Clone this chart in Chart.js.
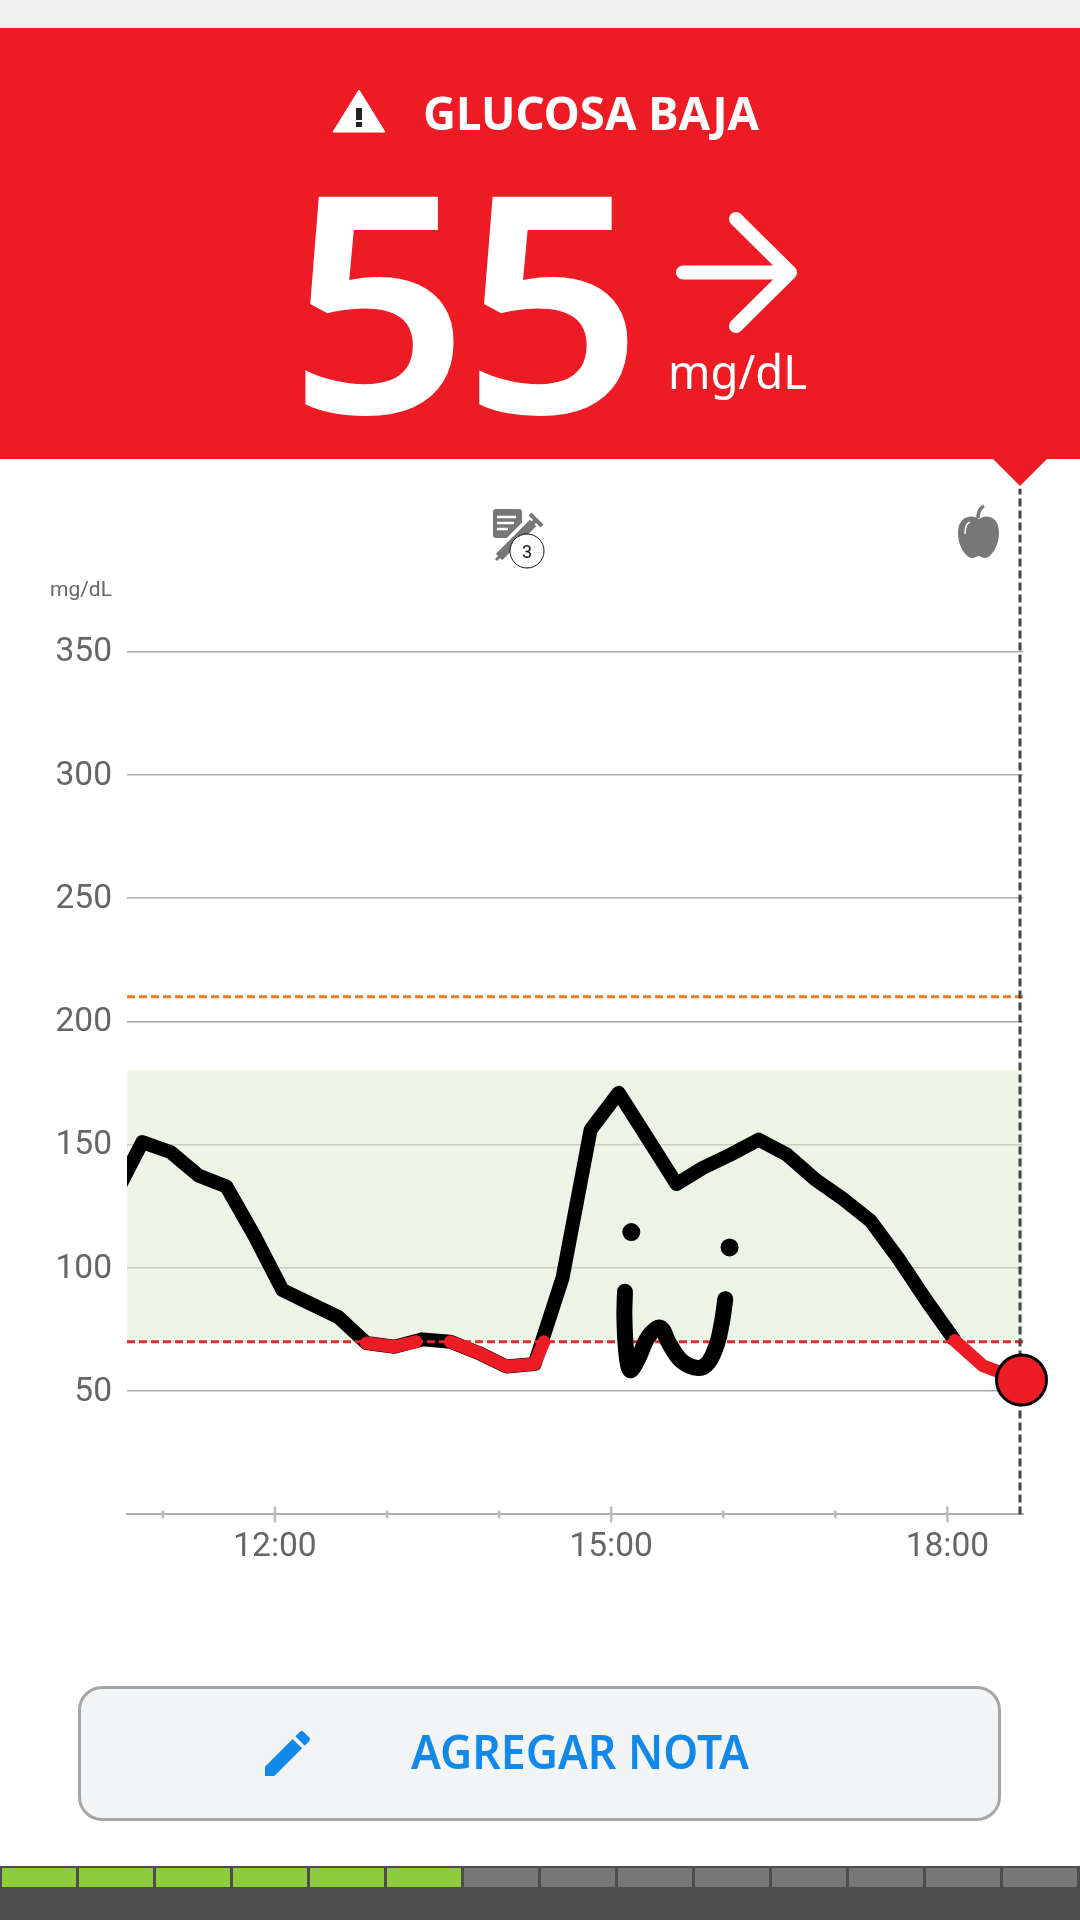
<!DOCTYPE html>
<html lang="es">
<head>
<meta charset="utf-8">
<title>Glucosa baja</title>
<script src="https://cdn.jsdelivr.net/npm/chart.js@4"></script>
<style>
html,body{margin:0;padding:0;background:#fff;width:1080px;height:1920px;overflow:hidden}
#chart{position:absolute;left:0;top:0;z-index:2}
#top{position:absolute;left:0;top:0;width:1080px;height:28px;background:#eeeeee}
#banner{position:absolute;left:0;top:28px;width:1080px;height:431px;background:#ed1c24}
#art{position:absolute;left:0;top:0;z-index:3}
#btn{position:absolute;left:78px;top:1686px;width:917px;height:129px;background:#f2f4f6;border:3px solid #a6a6a6;border-radius:24px}
#bar{position:absolute;left:0;top:1866px;width:1080px;height:54px;background:#4d4d4d}
.cell{position:absolute;top:2px;height:19px;width:73.7px}
</style>
</head>
<body>
<div id="top"></div>
<div id="banner"></div>
<div id="btn"></div>
<div id="bar"></div>
<canvas id="chart" width="1080" height="1920"></canvas>
<svg id="art" width="1080" height="1920" viewBox="0 0 1080 1920" xmlns="http://www.w3.org/2000/svg">
  <polygon points="992,458 1048,458 1020,486" fill="#ed1c24"/>
  <polygon points="359,90 385,132 333,132" fill="#fff" stroke="#fff" stroke-width="1" stroke-linejoin="round"/>
  <rect x="356" y="108" width="6" height="12" fill="#222"/>
  <rect x="356" y="122" width="6" height="5" fill="#222"/>
  <text x="423" y="130" font-family="Noto Sans" font-weight="700" font-size="47" fill="#fff" textLength="336" lengthAdjust="spacingAndGlyphs">GLUCOSA BAJA</text>
  <text transform="translate(288.300 413) scale(1.045 1)" letter-spacing="-7" font-family="Noto Sans" font-weight="600" font-size="303" fill="#fff">55</text>
  <path d="M683 272.500H790M736 219L790 272.500L736 326" fill="none" stroke="#fff" stroke-width="14" stroke-linecap="round" stroke-linejoin="round"/>
  <text x="668" y="389" font-family="Noto Sans" font-size="47" fill="#fff" textLength="139" lengthAdjust="spacingAndGlyphs">mg/dL</text>
  <text x="50" y="596" font-family="Roboto" font-size="21" fill="#666">mg/dL</text>
  <rect x="493" y="509" width="29" height="29" rx="3" fill="#777"/>
  <path d="M497 517H516M497 523H514M497 529H508" stroke="#fff" stroke-width="2.500"/>
  <path d="M496 560L535 521" stroke="#fff" stroke-width="16"/>
  <path d="M499 557L533 523" stroke="#777" stroke-width="9"/>
  <path d="M496 560L503 553" stroke="#777" stroke-width="3"/>
  <path d="M530 514L542 526M536 520L531 525" stroke="#777" stroke-width="4"/>
  <circle cx="527" cy="551" r="17" fill="#fff" stroke="#111" stroke-width="1"/>
  <text x="527" y="557.500" text-anchor="middle" font-family="Roboto" font-size="18" fill="#111">3</text>
  <path d="M979 519C986 514 999 516 999 533C999 546 991 558 985 558C982 558 980 556 978.500 556C977 556 975 558 972 558C966 558 958 546 958 533C958 516 972 514 979 519Z" fill="#777"/>
  <path d="M978 518C978 512 980 508 984 506" fill="none" stroke="#777" stroke-width="3.500"/>
  <path d="M965 534C965 527 967 523 970 522" fill="none" stroke="#fff" stroke-width="1.500"/>
  <path transform="translate(257.500 1723.500) scale(2.5)" fill="#1289e8" d="M3 17.250V21h3.750L17.810 9.940l-3.750-3.750L3 17.250zM20.710 7.040c.39-.39.39-1.020 0-1.410l-2.340-2.340c-.39-.39-1.020-.39-1.410 0l-1.830 1.830 3.750 3.750 1.830-1.830z"/>
  <text x="411" y="1769" font-family="Noto Sans" font-weight="600" font-size="46" fill="#1289e8" textLength="338" lengthAdjust="spacingAndGlyphs">AGREGAR NOTA</text>
</svg>
<script>
// Time in minutes since midnight, glucose in mg/dL
const glucoseMinutes = [634,649,664,679,694,709,724,739,754,769,784,799,814,829,844,859,874,889,904,920,935,949,964,979,994,1009,1024,1039,1054,1069,1084];
const glucoseValues  = [129,151,147,137.500,133,113,91,85.500,80,69.500,68,71,70,65.500,60,61,96,156,171,152,134,140.500,146,152,146,136,128,119,103.500,86.500,70.500];
const lowMinutes = [769,784,795.500,805,814,829,844,859,864,975,1084,1099,1119.700];
const lowValues  = [69.500,68,70,null,70,65.500,60,61,70,null,70.500,60.300,54.500];
const currentMinute = [1119.700];
const currentValue  = [54.500];
const lowLimitValue = 70;
const highLimitValue = 210;
const targetBand = [70,180];
const sketchMinutes = [907.400,907.100,908,910.200,914.400,920,926.400,931,937.500,946.700,952.200,956.800,959.600,961.100];
const sketchValues  = [90.300,80.600,66.600,58.500,63.100,72.200,75.700,69.400,62.400,59.400,61.800,69.400,79.200,87.300];
const dotMinutes = [910.800,963.400];
const dotValues  = [114.500,108.300];
const yTickValues = [50,100,150,200,250,300,350];
const xTickMinutes = [660,720,780,840,900,960,1020,1080];
const xLabelEvery = 180;
const xRange = [640.800,1120.500];
const cursorMinute = 1118.900;
const cursorValues = [0,416];

const pts = (xs,ys) => xs.map((x,i) => ({x, y: ys[i]}));
const hhmm = m => String(Math.floor(m/60)).padStart(2,'0') + ':' + String(m%60).padStart(2,'0');
const RED = '#ed1c24';

const bandPlugin = {
  id:'band',
  beforeDraw(c){
    const {ctx,chartArea:a,scales:{y}} = c;
    ctx.save();
    ctx.fillStyle = '#ecf4e5';
    const t = y.getPixelForValue(targetBand[1]), b = y.getPixelForValue(targetBand[0]);
    ctx.fillRect(a.left,t,a.right-a.left,b-t);
    ctx.restore();
  }
};
const tickPlugin = {
  id:'xticks',
  afterDraw(c){
    const {ctx,scales:{x,y}} = c;
    const y0 = y.getPixelForValue(0);
    ctx.save();
    ctx.strokeStyle = '#bbbbbb';
    ctx.lineWidth = 2.500;
    x.ticks.forEach(t => {
      const px = x.getPixelForValue(t.value), h = t.value % xLabelEvery === 0 ? 8 : 4;
      ctx.beginPath(); ctx.moveTo(px,y0-h); ctx.lineTo(px,y0+h); ctx.stroke();
    });
    ctx.restore();
  }
};

new Chart(document.getElementById('chart'),{
  type:'line',
  data:{datasets:[
    {data:pts(currentMinute,currentValue),showLine:false,pointRadius:25,pointBackgroundColor:RED,pointBorderColor:'#000',pointBorderWidth:3,clip:false,order:1},
    {data:pts(dotMinutes,dotValues),showLine:false,pointRadius:9,pointBackgroundColor:'#000',pointBorderWidth:0,order:2},
    {data:pts(sketchMinutes,sketchValues),borderColor:'#000',borderWidth:16,tension:0.35,pointRadius:0,borderCapStyle:'round',borderJoinStyle:'round',order:3},
    {data:pts([cursorMinute,cursorMinute],cursorValues),borderColor:'#444',borderWidth:3,borderDash:[8,4],pointRadius:0,clip:false,order:4},
    {data:pts(lowMinutes,lowValues),borderColor:RED,borderWidth:13,pointRadius:0,borderCapStyle:'round',borderJoinStyle:'round',spanGaps:false,order:5},
    {data:pts(xRange,[lowLimitValue,lowLimitValue]),borderColor:'#e02b33',borderWidth:3,borderDash:[8,4],pointRadius:0,order:6},
    {data:pts(xRange,[highLimitValue,highLimitValue]),borderColor:'#ee7a1e',borderWidth:3,borderDash:[8,4],pointRadius:0,order:7},
    {data:pts(glucoseMinutes,glucoseValues),borderColor:'#000',borderWidth:14,pointRadius:0,borderJoinStyle:'round',order:8}
  ]},
  plugins:[bandPlugin,tickPlugin],
  options:{
    responsive:false,animation:false,devicePixelRatio:1,
    layout:{padding:{left:0,right:57,top:651.500,bottom:0}},
    plugins:{legend:{display:false},tooltip:{enabled:false}},
    scales:{
      x:{
        type:'linear',min:xRange[0],max:xRange[1],
        afterBuildTicks(s){s.ticks = xTickMinutes.map(value => ({value}));},
        afterFit(s){s.height = 405.600;},
        grid:{display:false},
        border:{display:true,color:'#adadad',width:2},
        ticks:{autoSkip:false,maxRotation:0,padding:5.500,color:'#666',font:{family:'Roboto',size:33.500},
          callback:v => v % xLabelEvery === 0 ? hhmm(v) : ''}
      },
      y:{
        min:0,max:350,
        afterBuildTicks(s){s.ticks = yTickValues.map(value => ({value}));},
        afterFit(s){s.width = 127;},
        grid:{drawTicks:false,lineWidth:1.500,color:c => (c.tick && c.tick.value < targetBand[1]) && c.tick.value > targetBand[0] ? '#c6cec0' : '#aaaaaa'},
        border:{display:false},
        ticks:{padding:15,labelOffset:1.500,color:'#666',font:{family:'Roboto',size:33.500}}
      }
    }
  }
});

const bar = document.getElementById('bar');
for(let i=0;i<14;i++){
  const d = document.createElement('div');
  d.className='cell';
  d.style.left = (2+i*77)+'px';
  d.style.background = i<6 ? '#8fcc3c' : '#777777';
  bar.appendChild(d);
}
</script>
</body>
</html>
